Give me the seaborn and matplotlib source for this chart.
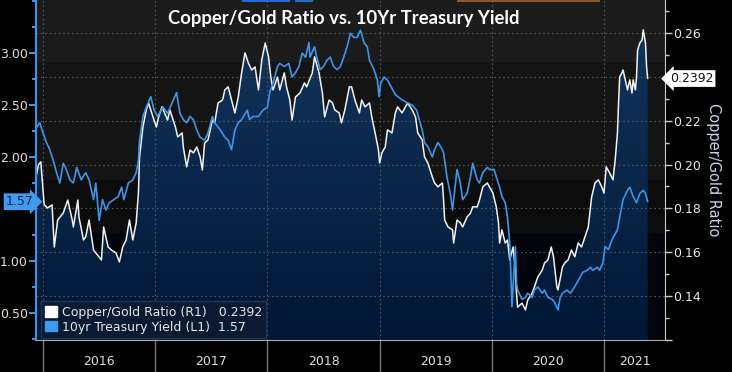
import numpy as np
import pandas as pd
import matplotlib
matplotlib.use('Agg')
import matplotlib.pyplot as plt
import matplotlib.transforms as mtransforms
from matplotlib.patches import Patch, Rectangle
from matplotlib.colors import LinearSegmentedColormap
import seaborn as sns

# Copper/Gold ratio (right axis, R1) - time in decimal years
ratio_t = [2015.94, 2015.96, 2015.98, 2016.01, 2016.04, 2016.08, 2016.10, 2016.13, 2016.18, 2016.22,
           2016.26, 2016.27, 2016.31, 2016.32, 2016.36, 2016.38, 2016.41, 2016.45, 2016.47, 2016.52,
           2016.54, 2016.58, 2016.61, 2016.65, 2016.68, 2016.71, 2016.74, 2016.77, 2016.80, 2016.83,
           2016.85, 2016.86, 2016.89, 2016.92, 2016.94, 2016.98, 2017.01, 2017.03, 2017.06, 2017.11,
           2017.13, 2017.18, 2017.20, 2017.24, 2017.25, 2017.28, 2017.31, 2017.34, 2017.37, 2017.40,
           2017.42, 2017.44, 2017.47, 2017.51, 2017.53, 2017.56, 2017.60, 2017.62, 2017.65, 2017.68,
           2017.71, 2017.74, 2017.77, 2017.80, 2017.83, 2017.86, 2017.89, 2017.92, 2017.95, 2017.98,
           2018.01, 2018.03, 2018.05, 2018.09, 2018.11, 2018.15, 2018.17, 2018.20, 2018.22, 2018.25,
           2018.29, 2018.33, 2018.35, 2018.40, 2018.42, 2018.46, 2018.49, 2018.51, 2018.55, 2018.58,
           2018.60, 2018.64, 2018.66, 2018.69, 2018.73, 2018.75, 2018.78, 2018.82, 2018.84, 2018.87,
           2018.91, 2018.93, 2018.96, 2018.99, 2019.00, 2019.02, 2019.05, 2019.07, 2019.11, 2019.14,
           2019.16, 2019.20, 2019.23, 2019.25, 2019.29, 2019.32, 2019.34, 2019.38, 2019.40, 2019.43,
           2019.47, 2019.49, 2019.52, 2019.56, 2019.57, 2019.58, 2019.61, 2019.65, 2019.66, 2019.69,
           2019.72, 2019.74, 2019.78, 2019.81, 2019.83, 2019.87, 2019.89, 2019.92, 2019.96, 2019.98,
           2020.01, 2020.04, 2020.06, 2020.07, 2020.09, 2020.12, 2020.14, 2020.16, 2020.19, 2020.21,
           2020.22, 2020.23, 2020.27, 2020.30, 2020.32, 2020.36, 2020.38, 2020.41, 2020.45, 2020.47,
           2020.50, 2020.53, 2020.55, 2020.58, 2020.59, 2020.63, 2020.65, 2020.68, 2020.71, 2020.74,
           2020.77, 2020.80, 2020.83, 2020.85, 2020.86, 2020.89, 2020.92, 2020.95, 2020.98, 2021.00,
           2021.02, 2021.05, 2021.08, 2021.10, 2021.12, 2021.13, 2021.14, 2021.16, 2021.17, 2021.19,
           2021.21, 2021.23, 2021.25, 2021.26, 2021.28, 2021.29, 2021.30, 2021.32, 2021.34, 2021.35,
           2021.37, 2021.38, 2021.39]
ratio_v = [0.1952, 0.2000, 0.2012, 0.1816, 0.1802, 0.1816, 0.1624, 0.1747, 0.1779, 0.1838,
           0.1747, 0.1715, 0.1838, 0.1761, 0.1656, 0.1670, 0.1747, 0.1610, 0.1597, 0.1565,
           0.1715, 0.1624, 0.1610, 0.1597, 0.1556, 0.1624, 0.1656, 0.1747, 0.1656, 0.1734,
           0.1870, 0.2035, 0.2171, 0.2249, 0.2281, 0.2217, 0.2171, 0.2217, 0.2263, 0.2203,
           0.2249, 0.2171, 0.2126, 0.2144, 0.2080, 0.1989, 0.2066, 0.2053, 0.2080, 0.2035,
           0.1975, 0.2098, 0.2112, 0.2203, 0.2190, 0.2281, 0.2294, 0.2340, 0.2354, 0.2294,
           0.2235, 0.2308, 0.2418, 0.2509, 0.2463, 0.2431, 0.2445, 0.2340, 0.2477, 0.2554,
           0.2491, 0.2399, 0.2340, 0.2399, 0.2340, 0.2418, 0.2354, 0.2294, 0.2203, 0.2308,
           0.2326, 0.2372, 0.2354, 0.2418, 0.2491, 0.2418, 0.2326, 0.2217, 0.2294, 0.2281,
           0.2249, 0.2235, 0.2190, 0.2249, 0.2354, 0.2354, 0.2294, 0.2235, 0.2294, 0.2263,
           0.2281, 0.2217, 0.2144, 0.2066, 0.2007, 0.2053, 0.2080, 0.2158, 0.2144, 0.2235,
           0.2263, 0.2235, 0.2263, 0.2281, 0.2249, 0.2217, 0.2144, 0.2112, 0.2035, 0.2007,
           0.1943, 0.1916, 0.1898, 0.1916, 0.1838, 0.1747, 0.1715, 0.1702, 0.1642, 0.1747,
           0.1734, 0.1715, 0.1761, 0.1779, 0.1807, 0.1807, 0.1838, 0.1898, 0.1916, 0.1898,
           0.1870, 0.1807, 0.1734, 0.1642, 0.1702, 0.1642, 0.1656, 0.1565, 0.1624, 0.1519,
           0.1414, 0.1350, 0.1368, 0.1337, 0.1382, 0.1414, 0.1442, 0.1487, 0.1519, 0.1551,
           0.1565, 0.1624, 0.1579, 0.1442, 0.1428, 0.1533, 0.1551, 0.1565, 0.1610, 0.1579,
           0.1642, 0.1624, 0.1670, 0.1702, 0.1715, 0.1852, 0.1916, 0.1930, 0.1898, 0.1870,
           0.1989, 0.1962, 0.1930, 0.2021, 0.2144, 0.2281, 0.2399, 0.2418, 0.2431, 0.2386,
           0.2340, 0.2386, 0.2326, 0.2386, 0.2340, 0.2399, 0.2522, 0.2554, 0.2568, 0.2614,
           0.2554, 0.2445, 0.2392]

# 10yr Treasury yield (left axis, L1)
yield_t = [2015.94, 2015.97, 2016.00, 2016.03, 2016.06, 2016.09, 2016.12, 2016.15, 2016.18, 2016.20,
           2016.24, 2016.27, 2016.30, 2016.34, 2016.38, 2016.41, 2016.45, 2016.47, 2016.50, 2016.53,
           2016.56, 2016.59, 2016.63, 2016.67, 2016.70, 2016.72, 2016.76, 2016.80, 2016.83, 2016.85,
           2016.86, 2016.89, 2016.92, 2016.96, 2016.99, 2017.02, 2017.07, 2017.11, 2017.15, 2017.19,
           2017.22, 2017.25, 2017.28, 2017.31, 2017.34, 2017.37, 2017.40, 2017.44, 2017.47, 2017.51,
           2017.53, 2017.58, 2017.62, 2017.65, 2017.68, 2017.71, 2017.74, 2017.77, 2017.82, 2017.84,
           2017.87, 2017.92, 2017.96, 2018.00, 2018.02, 2018.05, 2018.09, 2018.11, 2018.15, 2018.19,
           2018.22, 2018.25, 2018.28, 2018.31, 2018.34, 2018.37, 2018.38, 2018.42, 2018.44, 2018.47,
           2018.50, 2018.53, 2018.56, 2018.59, 2018.62, 2018.65, 2018.68, 2018.71, 2018.74, 2018.77,
           2018.80, 2018.83, 2018.86, 2018.89, 2018.91, 2018.95, 2018.98, 2018.995, 2019.01, 2019.04,
           2019.07, 2019.14, 2019.20, 2019.25, 2019.29, 2019.33, 2019.38, 2019.40, 2019.43, 2019.47,
           2019.49, 2019.52, 2019.56, 2019.57, 2019.60, 2019.63, 2019.65, 2019.69, 2019.72, 2019.74,
           2019.78, 2019.81, 2019.83, 2019.87, 2019.89, 2019.92, 2019.96, 2019.98, 2020.02, 2020.04,
           2020.07, 2020.09, 2020.12, 2020.14, 2020.16, 2020.18, 2020.21, 2020.22, 2020.23, 2020.27,
           2020.30, 2020.32, 2020.36, 2020.38, 2020.41, 2020.45, 2020.47, 2020.50, 2020.54, 2020.56,
           2020.59, 2020.61, 2020.63, 2020.67, 2020.70, 2020.72, 2020.76, 2020.79, 2020.81, 2020.85,
           2020.88, 2020.90, 2020.94, 2020.96, 2020.99, 2021.01, 2021.04, 2021.07, 2021.12, 2021.14,
           2021.17, 2021.21, 2021.23, 2021.26, 2021.29, 2021.32, 2021.35, 2021.37, 2021.39]
yield_v = [2.28, 2.33, 2.23, 2.14, 2.07, 1.97, 1.85, 1.75, 1.94, 1.90,
           1.78, 1.75, 1.90, 1.78, 1.85, 1.78, 1.59, 1.75, 1.39, 1.59,
           1.49, 1.56, 1.59, 1.62, 1.71, 1.59, 1.75, 1.78, 1.85, 1.97,
           2.16, 2.39, 2.48, 2.58, 2.45, 2.39, 2.48, 2.42, 2.52, 2.62,
           2.42, 2.36, 2.33, 2.39, 2.36, 2.26, 2.19, 2.16, 2.23, 2.39,
           2.33, 2.26, 2.19, 2.16, 2.07, 2.26, 2.33, 2.36, 2.45, 2.36,
           2.39, 2.39, 2.45, 2.48, 2.62, 2.71, 2.87, 2.90, 2.87, 2.90,
           2.77, 2.81, 2.87, 3.00, 2.96, 3.10, 2.96, 3.06, 2.96, 2.84,
           2.87, 2.93, 2.96, 2.87, 2.84, 2.87, 2.96, 3.06, 3.19, 3.15,
           3.15, 3.22, 3.10, 3.06, 2.93, 2.84, 2.74, 2.58, 2.71, 2.77,
           2.74, 2.60, 2.55, 2.52, 2.50, 2.45, 2.26, 2.14, 2.10, 2.00,
           2.07, 2.14, 2.07, 2.04, 1.81, 1.65, 1.49, 1.88, 1.75, 1.59,
           1.65, 1.81, 1.94, 1.78, 1.75, 1.85, 1.90, 1.88, 1.88, 1.81,
           1.71, 1.62, 1.56, 1.42, 1.17, 0.56, 1.14, 0.79, 0.72, 0.63,
           0.65, 0.69, 0.65, 0.72, 0.75, 0.69, 0.72, 0.65, 0.63, 0.60,
           0.53, 0.65, 0.69, 0.72, 0.69, 0.72, 0.79, 0.85, 0.89, 0.91,
           0.94, 0.91, 0.94, 0.91, 0.98, 1.14, 1.11, 1.20, 1.30, 1.42,
           1.59, 1.68, 1.71, 1.62, 1.56, 1.65, 1.68, 1.65, 1.57]

years = [2016, 2017, 2018, 2019, 2020, 2021]
title = 'Copper/Gold Ratio vs. 10Yr Treasury Yield'
ratio_name = 'Copper/Gold Ratio (R1)'
yield_name = '10yr Treasury Yield (L1)'

ratio_df = pd.DataFrame({'t': ratio_t, 'ratio': ratio_v})
yield_df = pd.DataFrame({'t': yield_t, 'yield': yield_v})

sns.set_style('dark')
plt.rcParams['font.family'] = ['DejaVu Sans']

BLUE = '#3d94e8'
XMIN, XMAX = 2015.937, 2021.544

fig = plt.figure(figsize=(7.32, 3.72), dpi=100, facecolor='black')
ax = fig.add_axes([36 / 732, 32 / 372, 629 / 732, 340 / 372])
ax2 = ax.twinx()
ax.set_zorder(ax2.get_zorder() + 1)
ax.patch.set_visible(False)
ax2.patch.set_visible(True)
ax2.set_facecolor('black')

# background bands (Bloomberg style)
for lo, hi, c in [(0.2468, 0.30, '#1c1c1c'), (0.193, 0.2468, '#141414'),
                  (0.1688, 0.193, '#0c0c0c'), (0.10, 0.1688, '#03050d')]:
    ax2.axhspan(lo, hi, color=c, zorder=0, lw=0)

# gradient fill under the copper/gold line
poly = ax2.fill_between(ratio_df['t'], ratio_df['ratio'], 0.10, color='none', lw=0)
cmap = LinearSegmentedColormap.from_list('navy', ['#001736', '#15375f'])
grad = np.linspace(0, 1, 256).reshape(-1, 1)
im = ax2.imshow(grad, extent=[XMIN, XMAX, 0.12, 0.275], origin='lower',
                aspect='auto', cmap=cmap, zorder=1)
im.set_clip_path(poly.get_paths()[0], transform=ax2.transData)

# dotted grid
for v in np.arange(0.14, 0.27, 0.02):
    ax2.axhline(v, color='#555555', lw=0.8, ls=(0, (1.5, 2.5)), zorder=2)
for yr in years:
    ax2.axvline(yr, color='#555555', lw=0.8, ls=(0, (1.5, 2.5)), zorder=2)

sns.lineplot(data=ratio_df, x='t', y='ratio', ax=ax2, color='#f2f2f2', lw=1.1,
             estimator=None, sort=False, zorder=3)
sns.lineplot(data=yield_df, x='t', y='yield', ax=ax, color=BLUE, lw=1.2,
             estimator=None, sort=False, zorder=3)

ax.set_xlim(XMIN, XMAX)
ax2.set_xlim(XMIN, XMAX)
ax.set_ylim(0.24, 3.51)
ax2.set_ylim(0.12, 0.275)
ax.set_xlabel('')
ax.set_ylabel('')
ax2.set_xlabel('')
ax.grid(False)
ax2.grid(False)

last_yield = yield_v[-1]
last_ratio = ratio_v[-1]

# left axis (the 1.50 label sits under the last-value tag)
left_ticks = np.arange(0.5, 3.01, 0.5)
ax.set_yticks(left_ticks)
ax.set_yticks(np.arange(0.25, 3.51, 0.25), minor=True)
ax.set_yticklabels(['' if abs(v - last_yield) < 0.12 else f'{v:.2f}' for v in left_ticks])
ax.tick_params(axis='y', which='both', direction='out', color=BLUE, width=1.5,
               labelcolor='#e6ddd3', labelsize=9, pad=1)
ax.tick_params(axis='y', which='major', length=5)
ax.tick_params(axis='y', which='minor', length=3)

# right axis (0.24 label sits under the last-value tag)
right_ticks = np.arange(0.12, 0.261, 0.02)
ax2.set_yticks(right_ticks)
ax2.set_yticks(np.arange(0.13, 0.275, 0.02), minor=True)
ax2.set_yticklabels(['' if (v < 0.13 or abs(v - last_ratio) < 0.008) else f'{v:.2f}' for v in right_ticks])
ax2.tick_params(axis='y', which='both', direction='out', color='#cccccc', width=1,
                labelcolor='#e8e8e8', labelsize=9, pad=1)
ax2.tick_params(axis='y', which='major', length=5)
ax2.tick_params(axis='y', which='minor', length=3)
ax2.set_ylabel('Copper/Gold Ratio', rotation=270, color='#c8d3e6', fontsize=10.5, labelpad=14)

# x axis: year labels centred in each year
mids = [y + 0.5 for y in years[:-1]] + [(years[-1] + XMAX) / 2]
ax.set_xticks(mids)
ax.set_xticklabels([str(y) for y in years])
quarters = [y + q for y in range(2016, 2022) for q in (0.25, 0.5, 0.75) if y + q < XMAX]
ax.set_xticks(quarters, minor=True)
ax.tick_params(axis='x', which='major', length=0, pad=11, labelcolor='#dddddd', labelsize=9)
ax.tick_params(axis='x', which='minor', length=3, color='#aaaaaa', direction='out')
ax2.tick_params(axis='x', which='both', length=0, labelbottom=False)

for s in ['top', 'right']:
    ax.spines[s].set_visible(False)
ax.spines['left'].set_color(BLUE)
ax.spines['left'].set_linewidth(1.5)
ax.spines['bottom'].set_color('#aaaaaa')
for s in ['top', 'left', 'bottom']:
    ax2.spines[s].set_visible(False)
ax2.spines['right'].set_color('#cccccc')

# year separators below the axis
trans = mtransforms.blended_transform_factory(ax.transData, ax.transAxes)
for yr in years:
    ax.plot([yr, yr], [0, -0.1], transform=trans, color='#777777', lw=1, clip_on=False)

# last-value tags
ax.text(-0.004, last_yield, f'{last_yield:.2f}',
        transform=mtransforms.blended_transform_factory(ax.transAxes, ax.transData),
        ha='right', va='center', fontsize=9, color='#0b2444',
        bbox=dict(boxstyle='rarrow,pad=0.15', fc='#3d9cf0', ec='none'), clip_on=False)
ax2.text(1.008, last_ratio, f'{last_ratio:.4f}',
         transform=mtransforms.blended_transform_factory(ax2.transAxes, ax2.transData),
         ha='left', va='center', fontsize=9, color='#111111',
         bbox=dict(boxstyle='larrow,pad=0.15', fc='white', ec='none'), clip_on=False)

# legend
handles = [Patch(facecolor='white', edgecolor='white'), Patch(facecolor='#3d9cf0', edgecolor='#3d9cf0')]
labels = [f'{ratio_name}   {last_ratio:.4f}', f'{yield_name}  {last_yield:.2f}']
leg = ax.legend(handles, labels, loc='lower left', bbox_to_anchor=(0.008, 0.006), borderaxespad=0,
                fontsize=9, labelcolor='#e6e6e6', facecolor='#0b1a33', edgecolor='#26344d',
                framealpha=1, fancybox=False, handlelength=0.9, handleheight=0.9,
                handletextpad=0.4, borderpad=0.35, labelspacing=0.15)

fig.text(0.47, 0.950, title, ha='center', va='center', color='white', fontsize=13.3,
         fontweight='bold', family=['Lato', 'DejaVu Sans'])

# Bloomberg tab remnants at the top edge
for x0, x1, c in [(242, 290, '#1f6fd0'), (295, 313, '#1f6fd0'), (457, 600, '#8a5a20')]:
    fig.patches.append(Rectangle((x0 / 732, 1 - 2 / 372), (x1 - x0) / 732, 2 / 372,
                                 transform=fig.transFigure, color=c, lw=0))

fig.savefig('out.png', dpi=100, facecolor='black')
